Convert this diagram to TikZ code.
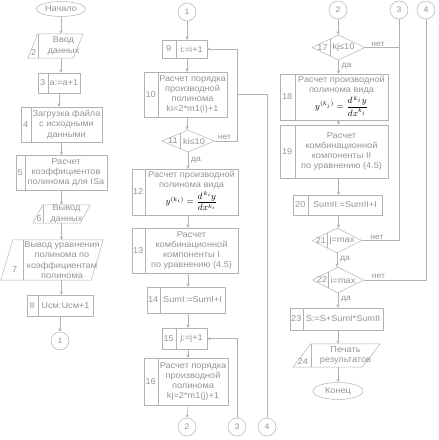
\documentclass[tikz,border=0pt]{standalone}
\usepackage{amsmath}
\usepackage{fontspec}
\setmainfont[FakeStretch=1.08]{Liberation Sans}
\usetikzlibrary{shapes.geometric}

\begin{document}
\begin{tikzpicture}[>=stealth,x=1pt,y=-1pt]

        % Styles
        \tikzset{
          ln/.style={draw=black!30,line width=0.5pt},
          blk/.style={ln,rectangle,inner sep=0pt},
          io/.style={rectangle,inner sep=0pt},
          cond/.style={ln,diamond,inner sep=0pt},
          term/.style={ln,ellipse,inner sep=0pt,text=black!42,
                       font=\fontsize{8.5}{10}\selectfont},
          link/.style={ln,circle,minimum size=18pt,inner sep=0pt,
                       text=black!42,font=\fontsize{8}{10}\selectfont},
          txt/.style={align=center,inner sep=0pt,text=black!42,
                      font=\fontsize{8.5}{10.3}\selectfont},
          num/.style={inner sep=0pt,text=black!42,
                      font=\fontsize{8.5}{10}\selectfont},
          lbl/.style={inner sep=0pt,text=black!42,
                      font=\fontsize{8}{9}\selectfont},
          frm/.style={inner sep=0pt,text=black,font=\fontsize{9}{10}\selectfont}
        }

        \useasboundingbox (0,0) rectangle (439,440);

        %-------------------------------
        % Left column
        %-------------------------------
        \node[term,minimum width=49pt,minimum height=15pt] (start) at (61,9) {Начало};

        \node[io,minimum width=45pt,minimum height=24pt] (p2) at (55.5,46) {};
        \draw[ln] ([xshift=-5pt]p2.south west) -- ([xshift=5pt]p2.north west)
                  -- ([xshift=5pt]p2.north east) -- ([xshift=-5pt]p2.south east) -- cycle;
        \draw[ln] ([xshift=5pt]p2.north west) -- ([xshift=5pt]p2.south west);
        \node[num] (n2) at ([xshift=1pt,yshift=6pt]p2.south west) {2};
        \node[txt] (t2) at ([xshift=8pt]p2.center) {Ввод\\данных};

        \node[blk,minimum width=42pt,minimum height=20pt] (b3) at (59,83) {};
        \draw[ln] ([xshift=10pt]b3.north west) -- ([xshift=10pt]b3.south west);
        \node[num] (n3) at ([xshift=5pt]b3.west) {3};
        \node[txt] (t3) at ([xshift=5pt]b3.center) {a:=a+1};

        \node[blk,minimum width=81pt,minimum height=35pt] (b4) at (61.5,124.5) {};
        \draw[ln] ([xshift=10pt]b4.north west) -- ([xshift=10pt]b4.south west);
        \node[num] (n4) at ([xshift=5pt]b4.west) {4};
        \node[txt] (t4) at ([xshift=5pt]b4.center) {Загрузка файла\\с исходными\\данными};

        \node[blk,minimum width=91pt,minimum height=35pt] (b5) at (61.5,172.5) {};
        \draw[ln] ([xshift=9pt]b5.north west) -- ([xshift=9pt]b5.south west);
        \node[num] (n5) at ([xshift=4.5pt]b5.west) {5};
        \node[txt] (t5) at ([xshift=4.5pt]b5.center) {Расчет\\коэффициентов\\полинома для ISa};

        \node[io,minimum width=47pt,minimum height=18pt] (p6) at (61.5,214) {};
        \draw[ln] ([xshift=-5pt]p6.south west) -- ([xshift=5pt]p6.north west)
                  -- ([xshift=5pt]p6.north east) -- ([xshift=-5pt]p6.south east) -- cycle;
        \draw[ln] ([xshift=5pt]p6.north west) -- ([xshift=5pt]p6.south west);
        \node[num] (n6) at ([xshift=1.5pt,yshift=5pt]p6.south west) {6};
        \node[txt] (t6) at ([xshift=5pt]p6.center) {Вывод\\данных};

        \node[io,minimum width=90pt,minimum height=40pt] (p7) at (52,260) {};
        \draw[ln] ([xshift=-6pt]p7.south west) -- ([xshift=6pt]p7.north west)
                  -- ([xshift=6pt]p7.north east) -- ([xshift=-6pt]p7.south east) -- cycle;
        \draw[ln] ([xshift=16pt]p7.north west) -- ([xshift=16pt]p7.south west);
        \node[num] (n7) at ([xshift=8pt,yshift=11pt]p7.south west) {7};
        \node[txt] (t7) at ([xshift=10pt]p7.center) {Вывод уравнения\\полинома по\\коэффициентам\\полинома};

        \node[blk,minimum width=66pt,minimum height=21pt] (b8) at (60,305.5) {};
        \draw[ln] ([xshift=11pt]b8.north west) -- ([xshift=11pt]b8.south west);
        \node[num] (n8) at ([xshift=5.5pt]b8.west) {8};
        \node[txt] (t8) at ([xshift=5.5pt]b8.center) {Uсм:Uсм+1};

        \node[link] (c1) at (60,341) {1};

        \draw[ln,->] (start.south) -- (start.south |- p2.north);
        \draw[ln,->] (start.south |- p2.south) -- (start.south |- b3.north);
        \draw[ln,->] (b3.south) -- (b3.south |- b4.north);
        \draw[ln,->] (b4.south) -- (b4.south |- b5.north);
        \draw[ln,->] (b5.south) -- (b5.south |- p6.north);
        \draw[ln,->] (b5.south |- p6.south) -- (b5.south |- p7.north);
        \draw[ln,->] (b5.south |- p7.south) -- (b5.south |- b8.north);
        \draw[ln,->] (b8.south) -- (c1.north);

        %-------------------------------
        % Middle column (loop over i)
        %-------------------------------
        \node[link] (c1m) at (187,12) {1};

        \node[blk,minimum width=45pt,minimum height=18pt] (b9) at (184.5,49) {};
        \draw[ln] ([xshift=14pt]b9.north west) -- ([xshift=14pt]b9.south west);
        \node[num] (n9) at ([xshift=7pt]b9.west) {9};
        \node[txt] (t9) at ([xshift=7pt]b9.center) {i:=i+1};

        \node[blk,minimum width=83pt,minimum height=45pt] (b10) at (185.5,94.5) {};
        \draw[ln] ([xshift=14pt]b10.north west) -- ([xshift=14pt]b10.south west);
        \node[num] (n10) at ([xshift=7pt]b10.west) {10};
        \node[txt] (t10) at ([xshift=7pt]b10.center) {Расчет порядка\\производной\\полинома\\ki=2*m1(i)+1};

        \node[cond,minimum width=53pt,minimum height=22pt] (d11) at (188,141) {};
        \draw[ln] ([xshift=-8pt,yshift=7.6pt]d11.center) -- ([xshift=-8pt,yshift=-7.6pt]d11.center);
        \node[num] (n11) at ([xshift=-15pt]d11.center) {11};
        \node[txt] (t11) at ([xshift=6pt]d11.center) {ki≤10};
        \node[lbl,anchor=south west] (no11) at ([xshift=3pt,yshift=1pt]d11.east) {нет};
        \node[lbl,anchor=west] (yes11) at ([xshift=3pt,yshift=-8pt]d11.south) {да};

        \node[blk,minimum width=106pt,minimum height=46pt] (b12) at (185,192) {};
        \draw[ln] ([xshift=13pt]b12.north west) -- ([xshift=13pt]b12.south west);
        \node[num] (n12) at ([xshift=6.5pt]b12.west) {12};
        \node[txt] (t12) at ([xshift=6.5pt,yshift=12pt]b12.center) {Расчет производной\\полинома вида};
        \node[frm] (f12) at ([xshift=6.5pt,yshift=-9pt]b12.center)
          {$y^{(k_i)}=\dfrac{d^{\,k_i}y}{dx^{k_i}}$};

        \node[blk,minimum width=106pt,minimum height=45pt] (b13) at (185,250.5) {};
        \draw[ln] ([xshift=13pt]b13.north west) -- ([xshift=13pt]b13.south west);
        \node[num] (n13) at ([xshift=6.5pt]b13.west) {13};
        \node[txt] (t13) at ([xshift=6.5pt]b13.center) {Расчет\\комбинационной\\компоненты I\\по уравнению (4.5)};

        \node[blk,minimum width=78pt,minimum height=26pt] (b14) at (186,300) {};
        \draw[ln] ([xshift=13pt]b14.north west) -- ([xshift=13pt]b14.south west);
        \node[num] (n14) at ([xshift=6.5pt]b14.west) {14};
        \node[txt] (t14) at ([xshift=6.5pt]b14.center) {SumI:=SumI+I};

        \node[blk,minimum width=45pt,minimum height=21pt] (b15) at (184.5,338.5) {};
        \draw[ln] ([xshift=14pt]b15.north west) -- ([xshift=14pt]b15.south west);
        \node[num] (n15) at ([xshift=7pt]b15.west) {15};
        \node[txt] (t15) at ([xshift=7pt]b15.center) {j:=j+1};

        \node[blk,minimum width=84pt,minimum height=47pt] (b16) at (186,381.5) {};
        \draw[ln] ([xshift=14pt]b16.north west) -- ([xshift=14pt]b16.south west);
        \node[num] (n16) at ([xshift=7pt]b16.west) {16};
        \node[txt] (t16) at ([xshift=7pt]b16.center) {Расчет порядка\\производной\\полинома\\kj=2*m1(j)+1};

        \node[link] (c2m) at (187,427) {2};
        \node[link] (c3m) at (237,427) {3};
        \node[link] (c4m) at (267,427) {4};

        \draw[ln,->] (c1m.south) -- (c1m.south |- b9.north);
        \draw[ln,->] (c1m.south |- b9.south) -- (c1m.south |- b10.north);
        \draw[ln,->] (c1m.south |- b10.south) -- (c1m.south |- d11.north);
        \draw[ln,->] (d11.south) -- (d11.south |- b12.north);
        \draw[ln,->] (d11.south |- b12.south) -- (d11.south |- b13.north);
        \draw[ln,->] (d11.south |- b13.south) -- (d11.south |- b14.north);
        \draw[ln,->] (d11.south |- b14.south) -- (d11.south |- b15.north);
        \draw[ln,->] (d11.south |- b15.south) -- (d11.south |- b16.north);
        \draw[ln,->] (d11.south |- b16.south) -- (c2m.north);

        % return paths
        \draw[ln,->] (d11.east) -- (d11.east -| c3m) -- (b9.east -| c3m) -- (b9.east);
        \draw[ln] (c4m.north) -- (c4m.north |- b10.east) -- (b10.east -| c3m);
        \draw[ln,->] (c3m.north) -- (c3m.north |- b15.east) -- (b15.east);

        %-------------------------------
        % Right column (loop over j)
        %-------------------------------
        \node[link] (c2r) at (338,10) {2};
        \node[link] (c3r) at (399,10) {3};
        \node[link] (c4r) at (426,10) {4};

        \node[cond,minimum width=53pt,minimum height=25pt] (d17) at (338.5,47.5) {};
        \draw[ln] ([xshift=-8.5pt,yshift=8.5pt]d17.center) -- ([xshift=-8.5pt,yshift=-8.5pt]d17.center);
        \node[num] (n17) at ([xshift=-16pt]d17.center) {17};
        \node[txt] (t17) at ([xshift=5pt]d17.center) {kj≤10};
        \node[lbl,anchor=south west] (no17) at ([xshift=6pt,yshift=1pt]d17.east) {нет};
        \node[lbl,anchor=west] (yes17) at ([xshift=3pt,yshift=-6pt]d17.south) {да};

        \node[blk,minimum width=108pt,minimum height=46pt] (b18) at (334,97) {};
        \draw[ln] ([xshift=15pt]b18.north west) -- ([xshift=15pt]b18.south west);
        \node[num] (n18) at ([xshift=7.5pt]b18.west) {18};
        \node[txt] (t18) at ([xshift=7.5pt,yshift=12pt]b18.center) {Расчет производной\\полинома вида};
        \node[frm] (f18) at ([xshift=7.5pt,yshift=-9pt]b18.center)
          {$y^{(k_j)}=\dfrac{d^{\,k_j}y}{dx^{k_j}}$};

        \node[blk,minimum width=108pt,minimum height=53pt] (b19) at (334,151.5) {};
        \draw[ln] ([xshift=15pt]b19.north west) -- ([xshift=15pt]b19.south west);
        \node[num] (n19) at ([xshift=7.5pt]b19.west) {19};
        \node[txt] (t19) at ([xshift=7.5pt]b19.center) {Расчет\\комбинационной\\компоненты II\\по уравнению (4.5)};

        \node[blk,minimum width=89pt,minimum height=20pt] (b20) at (337.5,205) {};
        \draw[ln] ([xshift=15pt]b20.north west) -- ([xshift=15pt]b20.south west);
        \node[num] (n20) at ([xshift=7.5pt]b20.west) {20};
        \node[txt] (t20) at ([xshift=7.5pt]b20.center) {SumII:=SumII+I};

        \node[cond,minimum width=50pt,minimum height=25pt] (d21) at (337,240.5) {};
        \draw[ln] ([xshift=-10pt,yshift=7.5pt]d21.center) -- ([xshift=-10pt,yshift=-7.5pt]d21.center);
        \node[num] (n21) at ([xshift=-16pt]d21.center) {21};
        \node[txt] (t21) at ([xshift=5pt]d21.center) {j=max};
        \node[lbl,anchor=south west] (no21) at ([xshift=8pt,yshift=1pt]d21.east) {нет};
        \node[lbl,anchor=west] (yes21) at ([xshift=3pt,yshift=-6pt]d21.south) {да};

        \node[cond,minimum width=51pt,minimum height=26pt] (d22) at (338,280) {};
        \draw[ln] ([xshift=-10pt,yshift=7.9pt]d22.center) -- ([xshift=-10pt,yshift=-7.9pt]d22.center);
        \node[num] (n22) at ([xshift=-16pt]d22.center) {22};
        \node[txt] (t22) at ([xshift=5pt]d22.center) {i=max};
        \node[lbl,anchor=south west] (no22) at ([xshift=8pt,yshift=1pt]d22.east) {нет};
        \node[lbl,anchor=west] (yes22) at ([xshift=3pt,yshift=-6pt]d22.south) {да};

        \node[blk,minimum width=93pt,minimum height=22pt] (b23) at (336.5,319) {};
        \draw[ln] ([xshift=13pt]b23.north west) -- ([xshift=13pt]b23.south west);
        \node[num] (n23) at ([xshift=6.5pt]b23.west) {23};
        \node[txt] (t23) at ([xshift=6.5pt]b23.center) {S:=S+SumI*SumII};

        \node[io,minimum width=69pt,minimum height=23pt] (p24) at (336.5,355.5) {};
        \draw[ln] ([xshift=-9pt]p24.south west) -- ([xshift=9pt]p24.north west)
                  -- ([xshift=9pt]p24.north east) -- ([xshift=-9pt]p24.south east) -- cycle;
        \draw[ln] ([xshift=9pt]p24.north west) -- ([xshift=9pt]p24.south west);
        \node[num] (n24) at ([xshift=1pt,yshift=6pt]p24.south west) {24};
        \node[txt] (t24) at ([xshift=9pt]p24.center) {Печать\\результатов};

        \node[term,minimum width=50pt,minimum height=17pt] (end) at (338,391) {Конец};

        \draw[ln,->] (c2r.south) -- (c2r.south |- d17.north);
        \draw[ln,->] (d17.south) -- (d17.south |- b18.north);
        \draw[ln,->] (d17.south |- b18.south) -- (d17.south |- b19.north);
        \draw[ln,->] (d17.south |- b19.south) -- (d17.south |- b20.north);
        \draw[ln,->] (d17.south |- b20.south) -- (d17.south |- d21.north);
        \draw[ln,->] (d21.south) -- (d21.south |- d22.north);
        \draw[ln,->] (d22.south) -- (d22.south |- b23.north);
        \draw[ln,->] (d22.south |- b23.south) -- (d22.south |- p24.north);
        \draw[ln,->] (d22.south |- p24.south) -- (end.north);

        % exits to connectors
        \draw[ln] (d17.east) -- (d17.east -| c3r);
        \draw[ln] (d21.east) -- (d21.east -| c3r) -- (c3r.south);
        \draw[ln] (d22.east) -- (d22.east -| c4r) -- (c4r.south);

\end{tikzpicture}
\end{document}
